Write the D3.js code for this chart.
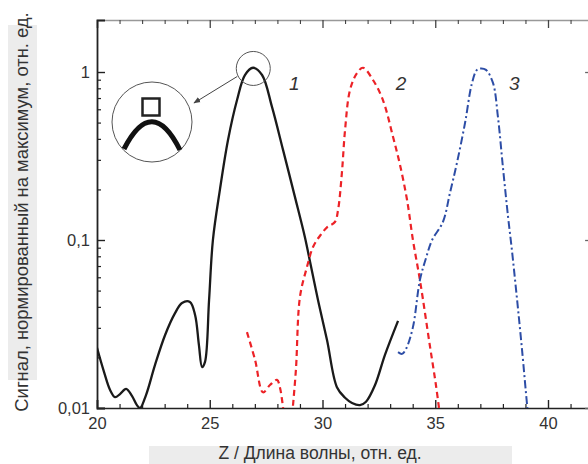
<!DOCTYPE html>
<html>
<head>
<meta charset="utf-8">
<script src="https://cdn.jsdelivr.net/npm/d3@7"></script>
<style>
  body { margin: 0; background: #fff; }
  text { font-family: "Liberation Sans", Arial, sans-serif; fill: #333; }
</style>
</head>
<body>
<div id="chart"></div>
<script>
// data (wavelength, normalised signal)
var wl1 = [20.0, 20.31, 20.58, 20.8, 21.02, 21.29, 21.55, 21.77, 21.91, 22.17, 22.57, 23.02, 23.46, 23.77, 24.12, 24.35, 24.52, 24.66, 24.79, 24.97, 25.14, 25.45, 25.81, 26.21, 26.56, 26.92, 27.32, 27.76, 28.25, 28.78, 29.22, 29.45, 29.8, 30.2, 30.64, 31.0, 31.31, 31.66, 31.93, 32.33, 32.77, 33.35];
var sig1 = [0.0228, 0.0164, 0.0128, 0.0116, 0.0121, 0.013, 0.0118, 0.0104, 0.0100, 0.0119, 0.018, 0.0272, 0.0367, 0.0422, 0.0428, 0.0358, 0.0237, 0.0175, 0.0188, 0.044, 0.1, 0.199, 0.394, 0.681, 0.959, 1.06, 0.96, 0.62, 0.344, 0.18, 0.104, 0.074, 0.044, 0.0254, 0.0133, 0.0115, 0.0107, 0.0104, 0.0109, 0.0137, 0.0207, 0.033];

var wl2 = [26.65, 27.01, 27.36, 27.67, 27.98, 28.12, 28.29, null, 28.65, 28.82, 29.0, 29.31, 29.58, 29.89, 30.2, 30.55, 30.69, 30.86, 31.0, 31.22, 31.53, 31.8, 32.24, 32.68, 33.13, 33.44, 33.75, 34.01, 34.32, 34.77, 35.03, 35.21];
var sig2 = [0.0283, 0.0193, 0.0124, 0.0137, 0.0147, 0.0131, 0.009, null, 0.009, 0.0168, 0.0458, 0.069, 0.0908, 0.106, 0.119, 0.128, 0.151, 0.251, 0.452, 0.782, 0.986, 1.06, 0.896, 0.681, 0.41, 0.279, 0.173, 0.1, 0.0578, 0.0231, 0.0137, 0.009];

var wl3 = [33.35, 33.53, 33.7, 34.01, 34.32, 34.59, 34.86, 35.34, 35.65, 35.96, 36.32, 36.63, 36.85, 37.03, 37.25, 37.56, 37.78, 38.0, 38.23, 38.4, 38.63, 38.85, 39.07, 39.12];
var sig3 = [0.0215, 0.021, 0.0224, 0.0303, 0.0578, 0.078, 0.1, 0.128, 0.19, 0.287, 0.497, 0.861, 1.03, 1.05, 1.03, 0.861, 0.54, 0.272, 0.137, 0.087, 0.044, 0.0221, 0.0105, 0.009];

var xMajor = [20, 25, 30, 35, 40];
var yMajor = [0.01, 0.1, 1];
var yLabels = ["0,01", "0,1", "1"];
var curveNames = ["1", "2", "3"];
var curveLabelX = [28.75, 33.48, 38.5];

var W = 588, H = 464;
var mLeft = 97, mTop = 20, mBottom = 408;

var x = d3.scaleLinear().domain([20, 42]).range([mLeft, mLeft + 22 * 22.55]);
var y = d3.scaleLog().domain([0.01, 2.04]).range([mBottom, mTop]);
var mRight = x(42);

var svg = d3.select("#chart").append("svg")
  .attr("width", W).attr("height", H);

svg.append("rect").attr("width", W).attr("height", H).attr("fill", "#fff");

// grey scan bands behind the axis titles
svg.append("rect").attr("x", 8).attr("y", 25).attr("width", 29).attr("height", 355).attr("fill", "#ececec");
svg.append("rect").attr("x", 149).attr("y", 446).attr("width", 363).attr("height", 18).attr("fill", "#ececec");

var defs = svg.append("defs");
defs.append("clipPath").attr("id", "plot")
  .append("rect").attr("x", mLeft).attr("y", mTop).attr("width", mRight - mLeft).attr("height", mBottom - mTop);

// axes
var xMinor = d3.range(20, 43, 1).filter(function (d) { return d % 5 != 0; });

svg.append("g").attr("transform", "translate(0," + mBottom + ")")
  .call(d3.axisBottom(x).tickValues(xMajor).tickSize(-8).tickPadding(9).tickFormat(d3.format("d")))
  .call(function (g) {
    g.select(".domain").attr("stroke", "#222").attr("stroke-width", 1.6);
    g.selectAll(".tick line").attr("stroke", "#222").attr("stroke-width", 1.4);
    g.selectAll("text").attr("font-size", 16.5).attr("fill", "#333")
      .style("font-family", "Liberation Sans, Arial, sans-serif");
  });
svg.append("g").attr("transform", "translate(0," + mBottom + ")")
  .call(d3.axisBottom(x).tickValues(xMinor).tickSize(-4).tickFormat(""))
  .call(function (g) {
    g.select(".domain").remove();
    g.selectAll(".tick line").attr("stroke", "#222").attr("stroke-width", 1.2);
  });

svg.append("g").attr("transform", "translate(0," + mTop + ")")
  .call(d3.axisTop(x).tickValues(xMajor).tickSize(-8).tickFormat(""))
  .call(function (g) {
    g.select(".domain").attr("stroke", "#999").attr("stroke-width", 1.6);
    g.selectAll(".tick line").attr("stroke", "#444").attr("stroke-width", 1.3);
  });
svg.append("g").attr("transform", "translate(0," + mTop + ")")
  .call(d3.axisTop(x).tickValues(xMinor).tickSize(-4).tickFormat(""))
  .call(function (g) {
    g.select(".domain").remove();
    g.selectAll(".tick line").attr("stroke", "#444").attr("stroke-width", 1.1);
  });

var yMinor = [];
[0.01, 0.1, 1].forEach(function (d) {
  for (var k = 2; k <= 9; k++) if (d * k < 2) yMinor.push(d * k);
});

svg.append("g").attr("transform", "translate(" + mLeft + ",0)")
  .call(d3.axisLeft(y).tickValues(yMajor).tickSize(-8).tickPadding(7)
    .tickFormat(function (d, i) { return yLabels[i]; }))
  .call(function (g) {
    g.select(".domain").attr("stroke", "#222").attr("stroke-width", 1.8);
    g.selectAll(".tick line").attr("stroke", "#222").attr("stroke-width", 1.4);
    g.selectAll("text").attr("font-size", 16.5).attr("fill", "#333")
      .style("font-family", "Liberation Sans, Arial, sans-serif");
  });
svg.append("g").attr("transform", "translate(" + mLeft + ",0)")
  .call(d3.axisLeft(y).tickValues(yMinor).tickSize(-4).tickFormat(""))
  .call(function (g) {
    g.select(".domain").remove();
    g.selectAll(".tick line").attr("stroke", "#222").attr("stroke-width", 1.2);
  });

svg.append("g").attr("transform", "translate(" + mRight + ",0)")
  .call(d3.axisRight(y).tickValues(yMajor).tickSize(-8).tickFormat(""))
  .call(function (g) {
    g.select(".domain").attr("stroke", "#999");
    g.selectAll(".tick line").attr("stroke", "#666").attr("stroke-width", 1.3);
  });

// curves
var plot = svg.append("g").attr("clip-path", "url(#plot)");

function drawCurve(xs, ys, color, width, dash) {
  var pts = xs.map(function (d, i) { return [d, ys[i]]; });
  var line = d3.line()
    .defined(function (p) { return p[0] != null; })
    .x(function (p) { return x(p[0]); })
    .y(function (p) { return y(p[1]); })
    .curve(d3.curveCatmullRom.alpha(0.5));
  plot.append("path").datum(pts)
    .attr("d", line)
    .attr("fill", "none")
    .attr("stroke", color)
    .attr("stroke-width", width)
    .attr("stroke-dasharray", dash)
    .attr("stroke-linejoin", "round");
}

drawCurve(wl1, sig1, "#1a1a1a", 2.3, null);
drawCurve(wl2, sig2, "#ec2227", 2.2, "6,4");
drawCurve(wl3, sig3, "#2d4da6", 2.0, "8,3,2,3");

// curve numbers
svg.selectAll(".cname").data(curveNames).enter().append("text")
  .attr("class", "cname")
  .attr("x", function (d, i) { return x(curveLabelX[i]); })
  .attr("y", y(0.78))
  .attr("text-anchor", "middle")
  .attr("font-size", 19)
  .attr("font-style", "italic")
  .text(function (d) { return d; });

// zoomed inset of the top of curve 1
var cx = x(26.93), cy = y(1.05);
svg.append("circle").attr("cx", cx).attr("cy", cy).attr("r", 17)
  .attr("fill", "none").attr("stroke", "#555").attr("stroke-width", 1);

defs.append("marker").attr("id", "arr")
  .attr("viewBox", "0 0 10 10").attr("refX", 9).attr("refY", 5)
  .attr("markerWidth", 7).attr("markerHeight", 7).attr("orient", "auto")
  .append("path").attr("d", "M0,1 L10,5 L0,9 z").attr("fill", "#444");

svg.append("line").attr("x1", cx - 16).attr("y1", cy + 8).attr("x2", 194).attr("y2", 103)
  .attr("stroke", "#444").attr("stroke-width", 1).attr("marker-end", "url(#arr)");

svg.append("circle").attr("cx", 152).attr("cy", 122).attr("r", 40)
  .attr("fill", "#fff").attr("stroke", "#555").attr("stroke-width", 1);
svg.append("rect").attr("x", 142.5).attr("y", 98.5).attr("width", 17).attr("height", 17)
  .attr("fill", "none").attr("stroke", "#222").attr("stroke-width", 2.5);
svg.append("path").attr("d", "M124,149 Q152,94 180,150")
  .attr("fill", "none").attr("stroke", "#111").attr("stroke-width", 5);

// axis titles
svg.append("text")
  .attr("transform", "translate(28,212) rotate(-90)")
  .attr("text-anchor", "middle")
  .attr("font-size", 18.4)
  .attr("fill", "#444")
  .text("Сигнал, нормированный на максимум, отн. ед.");

svg.append("text")
  .attr("x", 320).attr("y", 459)
  .attr("text-anchor", "middle")
  .attr("font-size", 17.5)
  .attr("fill", "#444")
  .text("Z / Длина волны, отн. ед.");
</script>
</body>
</html>
